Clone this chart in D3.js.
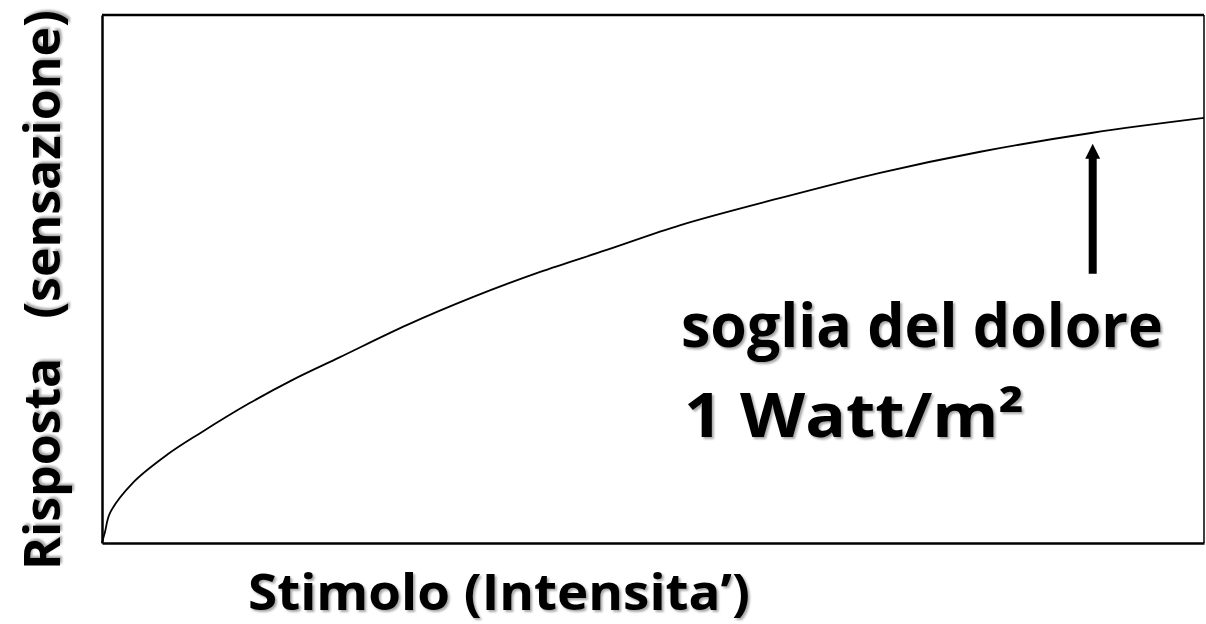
<!DOCTYPE html>
<html>
<head>
<meta charset="utf-8">
<script src="https://cdn.jsdelivr.net/npm/d3@7"></script>
<style>
  html, body { margin: 0; padding: 0; background: #fff; }
  svg { display: block; }
  text { font-family: "Comic Sans MS", "Open Sans", sans-serif; font-weight: 700; fill: #000; }
</style>
</head>
<body>
<script>
// Stimulus intensity (0–100 % of the range) and perceived response (0–100 %)
const stimolo = [0, 0.27, 0.73, 2.8, 5.9, 8.9, 13.4, 17.3, 21.6, 27.7, 33.7, 39.7, 45.8, 52.5, 61.5, 70.6, 79.7, 89.9, 100];
const risposta = [0, 2.1, 5.7, 11.4, 16.7, 20.8, 26.5, 30.9, 35.2, 41.3, 46.6, 51.3, 55.5, 60.2, 65.3, 70.1, 74.1, 77.7, 80.5];

// Pain threshold marker
const sogliaStimolo = 89.9;
const sogliaArrowFrom = 51;   // response level where the arrow starts
const sogliaArrowTo = 75.6;   // response level of the arrow tip

const xLabel = "Stimolo (Intensita’)";
const yLabel = "Risposta   (sensazione)";
const noteLines = ["soglia del dolore", "1 Watt/m²"];

const W = 1206, H = 624;
const margin = { top: 15, right: 2, bottom: 81, left: 102 };

const svg = d3.select("body").append("svg").attr("width", W).attr("height", H);

const defs = svg.append("defs");
const shadow = defs.append("filter").attr("id", "txtShadow")
  .attr("x", "-5%").attr("y", "-20%").attr("width", "110%").attr("height", "140%");
shadow.append("feDropShadow").attr("dx", 2).attr("dy", 2).attr("stdDeviation", 1.2)
  .attr("flood-color", "#000").attr("flood-opacity", 0.35);

const x = d3.scaleLinear().domain([0, 100]).range([margin.left, W - margin.right]);
const y = d3.scaleLinear().domain([0, 100]).range([H - margin.bottom, margin.top]);

// Frame: axis domains without ticks, plus top and right edges
svg.append("g").attr("transform", `translate(0,${y(0)})`)
  .call(d3.axisBottom(x).tickSize(0).tickFormat(""))
  .select(".domain").attr("stroke", "#000").attr("stroke-width", 2.5);
svg.append("g").attr("transform", `translate(${x(0)},0)`)
  .call(d3.axisLeft(y).tickSize(0).tickFormat(""))
  .select(".domain").attr("stroke", "#000").attr("stroke-width", 2.5);
svg.append("line")
  .attr("x1", x(0)).attr("x2", x(100)).attr("y1", y(100)).attr("y2", y(100))
  .attr("stroke", "#000").attr("stroke-width", 2.5);
svg.append("line")
  .attr("x1", x(100)).attr("x2", x(100)).attr("y1", y(100)).attr("y2", y(0))
  .attr("stroke", "#000").attr("stroke-width", 1.5);

// Response curve
const pts = stimolo.map((s, i) => [s, risposta[i]]);
svg.append("path")
  .datum(pts)
  .attr("fill", "none")
  .attr("stroke", "#000")
  .attr("stroke-width", 1.8)
  .attr("d", d3.line().x(d => x(d[0])).y(d => y(d[1])).curve(d3.curveCatmullRom.alpha(0.5)));

// Arrow pointing at the threshold
const ax = x(sogliaStimolo);
const yTail = y(sogliaArrowFrom), yTip = y(sogliaArrowTo);
const headLen = 15, headHalf = 7.5, shaftHalf = 4;
svg.append("path")
  .attr("fill", "#000")
  .attr("d", [
    `M${ax - shaftHalf},${yTail}`,
    `L${ax - shaftHalf},${yTip + headLen}`,
    `L${ax - headHalf},${yTip + headLen}`,
    `L${ax},${yTip}`,
    `L${ax + headHalf},${yTip + headLen}`,
    `L${ax + shaftHalf},${yTip + headLen}`,
    `L${ax + shaftHalf},${yTail}`, "Z"].join(""));

// Annotation text
svg.append("text").attr("x", 681).attr("y", 347)
  .attr("font-size", 60).attr("textLength", 482).attr("lengthAdjust", "spacingAndGlyphs")
  .attr("filter", "url(#txtShadow)").text(noteLines[0]);
svg.append("text").attr("x", 684).attr("y", 437)
  .attr("font-size", 60).attr("textLength", 340).attr("lengthAdjust", "spacingAndGlyphs")
  .attr("filter", "url(#txtShadow)").text(noteLines[1]);

// Axis titles
svg.append("text").attr("x", 248).attr("y", 610)
  .attr("font-size", 50).attr("textLength", 502).attr("lengthAdjust", "spacingAndGlyphs")
  .attr("filter", "url(#txtShadow)").text(xLabel);
svg.append("text")
  .attr("transform", "translate(60,570) rotate(-90)")
  .attr("font-size", 50).attr("textLength", 560).attr("lengthAdjust", "spacingAndGlyphs")
  .attr("filter", "url(#txtShadow)")
  .style("white-space", "pre")
  .text(yLabel);
</script>
</body>
</html>
